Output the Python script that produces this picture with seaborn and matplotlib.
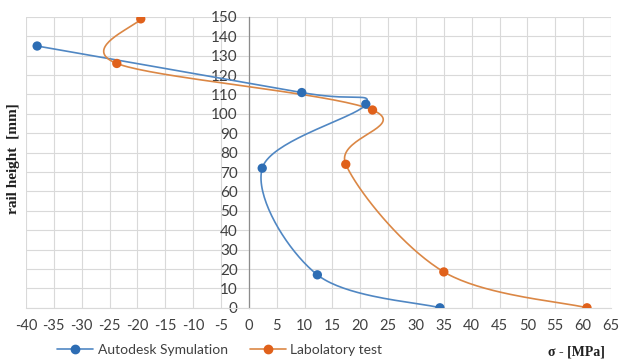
import numpy as np
import matplotlib.pyplot as plt
import seaborn as sns
from matplotlib.lines import Line2D

# values (stress in MPa, height in mm)
sim_stress = [34.3, 12.3, 2.4, 21.0, 9.5, -38.0]
sim_height = [0, 17, 72, 105, 111, 135]
lab_stress = [60.7, 35.0, 17.4, 22.2, -23.7, -19.4]
lab_height = [0, 18.5, 74, 102, 126, 149]

sim_name = 'Autodesk Symulation'
lab_name = 'Labolatory test'

x_ticks = list(range(-40, 66, 5))
y_ticks = list(range(0, 151, 10))

blue_line, blue_dot = '#5087C3', '#2D6DB4'
orange_line, orange_dot = '#DB8745', '#E0611B'


def smooth(xs, ys, n=40):
    # excel-like smoothed line (catmull-rom through the points)
    p = np.column_stack([xs, ys]).astype(float)
    p = np.vstack([p[0], p, p[-1]])
    out = []
    for i in range(1, len(p) - 2):
        p0, p1, p2, p3 = p[i - 1], p[i], p[i + 1], p[i + 2]
        c1 = p1 + (p2 - p0) / 6
        c2 = p2 - (p3 - p1) / 6
        t = np.linspace(0, 1, n)[:, None]
        seg = ((1 - t) ** 3) * p1 + 3 * ((1 - t) ** 2) * t * c1 + 3 * (1 - t) * t ** 2 * c2 + t ** 3 * p2
        out.append(seg if i == 1 else seg[1:])
    out = np.vstack(out)
    return out[:, 0], out[:, 1]


sns.set_style('white')
plt.rcParams['font.family'] = ['Lato', 'DejaVu Sans']
plt.rcParams['axes.unicode_minus'] = False

fig = plt.figure(figsize=(6.19, 3.60), dpi=100)
ax = fig.add_axes([0.042, 0.145, 0.945, 0.808])

for xs, ys, lc, dc in [(sim_stress, sim_height, blue_line, blue_dot),
                       (lab_stress, lab_height, orange_line, orange_dot)]:
    sx, sy = smooth(xs, ys)
    sns.lineplot(x=sx, y=sy, sort=False, estimator=None, color=lc, lw=1.2, ax=ax, zorder=3)
    sns.scatterplot(x=xs, y=ys, color=dc, s=45, edgecolor='none', ax=ax, zorder=4)

ax.set_xlim(-40, 65)
ax.set_ylim(0, 150)
ax.set_xticks(x_ticks)
ax.set_yticks(y_ticks)
ax.grid(True, color='#D9D9D9', lw=0.8)
ax.set_axisbelow(True)

ax.spines['left'].set_position(('data', 0))
ax.spines['left'].set_color('#8C8C8C')
ax.spines['left'].set_linewidth(0.9)
ax.spines['bottom'].set_color('#D9D9D9')
ax.spines['bottom'].set_linewidth(0.8)
ax.spines['top'].set_visible(False)
ax.spines['right'].set_visible(False)

ax.tick_params(axis='both', length=0, labelcolor='#404040')
ax.tick_params(axis='x', pad=8, labelsize=10.5)
ax.tick_params(axis='y', pad=8, labelsize=11)
ax.set_xlabel('')
ax.set_ylabel('')

fig.text(0.022, 0.56, 'rail height  [mm]', rotation=90, ha='center', va='center',
         family='Liberation Serif', fontweight='bold', fontsize=11, color='#202020')
fig.text(0.932, 0.022, 'σ - [MPa]', ha='center', va='center',
         family='Liberation Serif', fontweight='bold', fontsize=10, color='#202020')

handles = [Line2D([], [], color=blue_line, marker='o', markerfacecolor=blue_dot,
                  markeredgecolor=blue_dot, markersize=6, lw=1.2),
           Line2D([], [], color=orange_line, marker='o', markerfacecolor=orange_dot,
                  markeredgecolor=orange_dot, markersize=6, lw=1.2)]
leg = fig.legend(handles, [sim_name, lab_name], loc='center', bbox_to_anchor=(0.355, 0.028),
                 ncol=2, frameon=False, fontsize=10, handlelength=2.6, columnspacing=1.6,
                 handletextpad=0.3)
for t in leg.get_texts():
    t.set_color('#404040')

plt.savefig('out.png', dpi=100)
